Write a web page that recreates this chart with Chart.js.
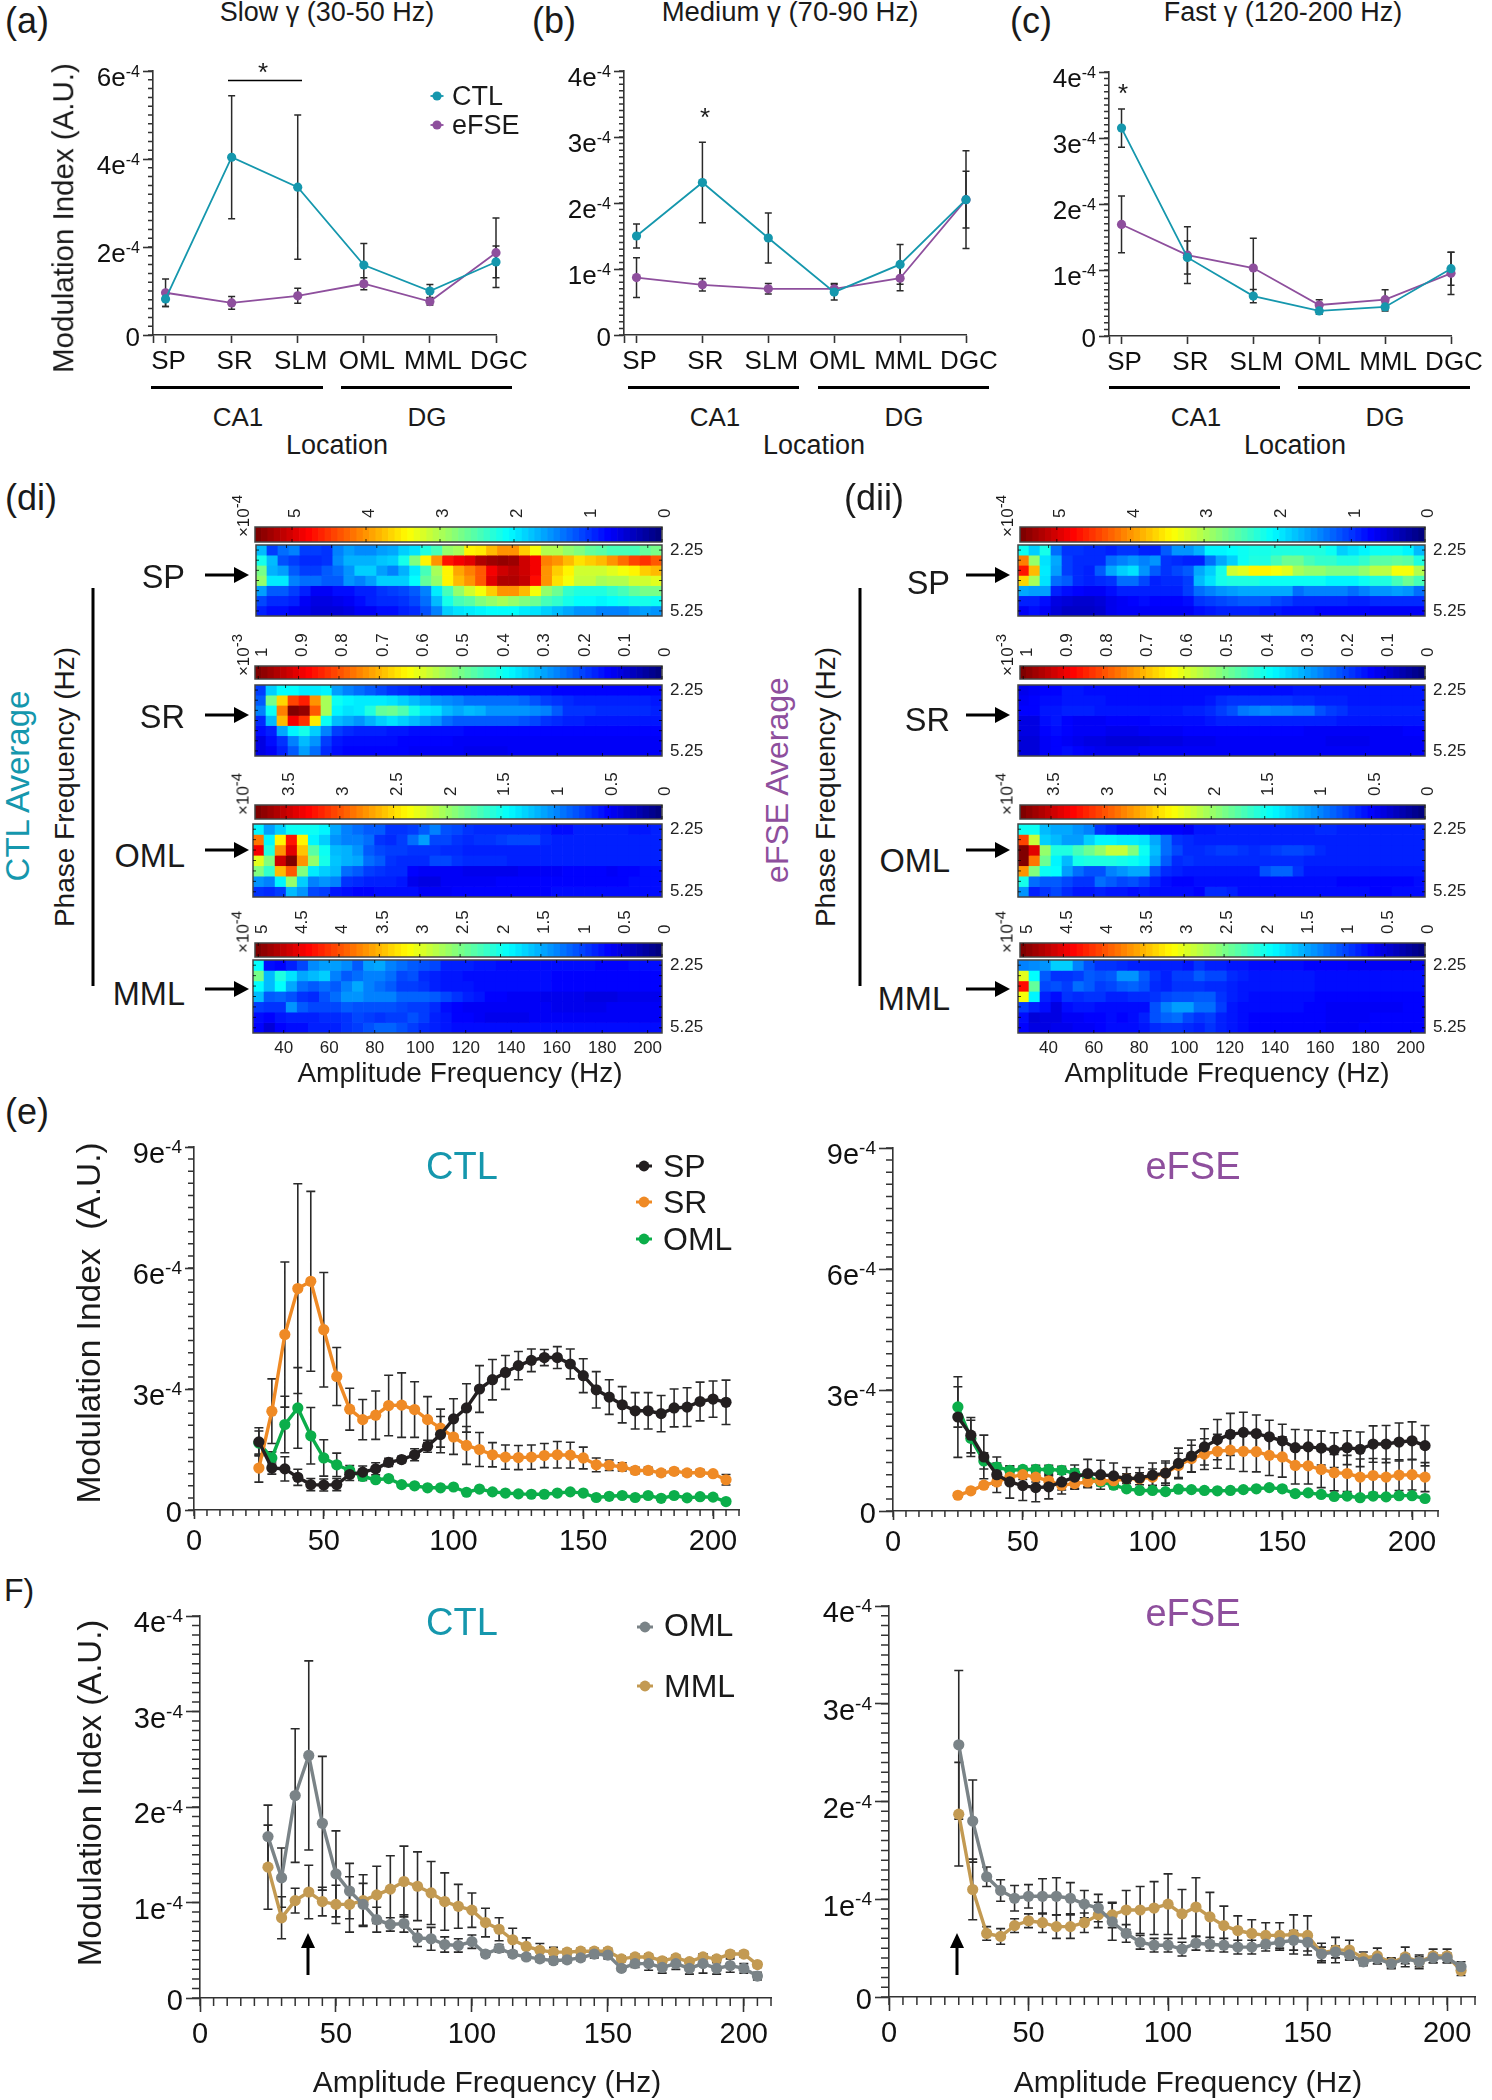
<!DOCTYPE html>
<html>
<head>
<meta charset="utf-8">
<title>Modulation index figure</title>
<script src="https://cdn.jsdelivr.net/npm/chart.js@4"></script>
<style>
  html, body { margin: 0; background: #fff; }
  #page { position: relative; width: 1492px; height: 2100px; overflow: hidden; font-family: "Liberation Sans", Arial, sans-serif; color: #1a1a1a; }
  #page canvas { position: absolute; }
  #page svg { position: absolute; left: 0; top: 0; }
  .t { position: absolute; white-space: pre; line-height: 1; }
  .t sup { font-size: 0.88em; line-height: 0; vertical-align: 0.45em; }
</style>
</head>
<body>
<div id="page"></div>
<script>
// panels a-c, values in units of 1e-4
const sites = ['SP', 'SR', 'SLM', 'OML', 'MML', 'DGC'];
const slowCtl = [0.82, 4.04, 3.36, 1.59, 1.0, 1.66];
const slowCtlSem = [0.17, 1.4, 1.64, 0.49, 0.15, 0.36];
const slowFse = [0.96, 0.73, 0.89, 1.165, 0.76, 1.87];
const slowFseSem = [0.31, 0.145, 0.17, 0.135, 0.08, 0.79];
const medCtl = [1.5, 2.31, 1.47, 0.65, 1.07, 2.05];
const medCtlSem = [0.18, 0.61, 0.38, 0.12, 0.3, 0.43];
const medFse = [0.87, 0.76, 0.7, 0.7, 0.86, 2.05];
const medFseSem = [0.3, 0.095, 0.08, 0.08, 0.19, 0.74];
const fastCtl = [3.15, 1.19, 0.605, 0.38, 0.44, 1.02];
const fastCtlSem = [0.29, 0.25, 0.1, 0.05, 0.06, 0.25];
const fastFse = [1.69, 1.225, 1.03, 0.47, 0.55, 0.95];
const fastFseSem = [0.43, 0.43, 0.45, 0.08, 0.15, 0.32];

// panels e, F
const freqs = [25, 30, 35, 40, 45, 50, 55, 60, 65, 70, 75, 80, 85, 90, 95, 100, 105, 110, 115, 120, 125, 130, 135, 140, 145, 150, 155, 160, 165, 170, 175, 180, 185, 190, 195, 200, 205];

const eCtlSP = [1.69, 1.04, 1.02, 0.81, 0.63, 0.62, 0.63, 0.88, 0.94, 1.02, 1.18, 1.25, 1.37, 1.58, 1.87, 2.26, 2.53, 3.0, 3.23, 3.41, 3.58, 3.71, 3.78, 3.78, 3.62, 3.33, 2.98, 2.8, 2.61, 2.46, 2.46, 2.39, 2.53, 2.55, 2.69, 2.75, 2.67];
const eCtlSPSem = [0.35, 0.15, 0.3, 0.2, 0.15, 0.15, 0.15, 0.15, 0.15, 0.15, 0.1, 0.08, 0.15, 0.15, 0.45, 0.5, 0.6, 0.58, 0.5, 0.42, 0.35, 0.28, 0.2, 0.27, 0.37, 0.42, 0.45, 0.43, 0.45, 0.45, 0.45, 0.45, 0.47, 0.48, 0.48, 0.45, 0.55];
const eCtlSR = [1.04, 2.45, 4.35, 5.49, 5.67, 4.47, 3.31, 2.5, 2.24, 2.35, 2.59, 2.6, 2.49, 2.24, 2.03, 1.81, 1.6, 1.5, 1.37, 1.31, 1.3, 1.31, 1.35, 1.37, 1.36, 1.29, 1.12, 1.11, 1.07, 0.98, 0.98, 0.92, 0.96, 0.92, 0.93, 0.9, 0.75];
const eCtlSRSem = [0.35, 0.8, 1.8, 2.6, 2.23, 1.42, 0.72, 0.52, 0.5, 0.6, 0.75, 0.8, 0.69, 0.57, 0.47, 0.43, 0.47, 0.42, 0.3, 0.3, 0.3, 0.3, 0.3, 0.33, 0.32, 0.27, 0.17, 0.13, 0.1, 0.08, 0.08, 0.07, 0.07, 0.07, 0.07, 0.05, 0.13];
const eCtlOML = [1.66, 1.29, 2.12, 2.53, 1.84, 1.29, 1.12, 0.98, 0.83, 0.75, 0.78, 0.63, 0.6, 0.55, 0.55, 0.57, 0.44, 0.52, 0.45, 0.42, 0.4, 0.39, 0.39, 0.42, 0.45, 0.42, 0.31, 0.34, 0.36, 0.31, 0.36, 0.29, 0.36, 0.3, 0.33, 0.32, 0.21];
const eCtlOMLSem = [0.3, 0.15, 0.7, 1.0, 0.7, 0.45, 0.29, 0.12, 0.1, 0.05, 0.05, 0.05, 0.05, 0.05, 0.05, 0.05, 0.05, 0.05, 0.05, 0.05, 0.05, 0.05, 0.05, 0.05, 0.05, 0.05, 0.05, 0.05, 0.05, 0.05, 0.05, 0.05, 0.05, 0.05, 0.05, 0.05, 0.05];

const eFseSP = [2.33, 1.88, 1.34, 0.9, 0.72, 0.63, 0.58, 0.6, 0.72, 0.84, 0.93, 0.9, 0.87, 0.8, 0.82, 0.89, 0.94, 1.18, 1.36, 1.59, 1.77, 1.9, 1.95, 1.92, 1.84, 1.74, 1.57, 1.59, 1.56, 1.51, 1.57, 1.53, 1.66, 1.66, 1.71, 1.74, 1.62];
const eFseSPSem = [1.0, 0.44, 0.54, 0.44, 0.4, 0.37, 0.35, 0.3, 0.3, 0.3, 0.35, 0.36, 0.32, 0.28, 0.26, 0.3, 0.3, 0.38, 0.4, 0.45, 0.5, 0.52, 0.5, 0.46, 0.41, 0.41, 0.45, 0.42, 0.42, 0.43, 0.42, 0.43, 0.45, 0.46, 0.47, 0.47, 0.5];
const eFseSR = [0.39, 0.5, 0.64, 0.72, 0.84, 0.9, 0.84, 0.75, 0.64, 0.68, 0.72, 0.75, 0.75, 0.8, 0.8, 0.84, 0.94, 1.13, 1.3, 1.41, 1.48, 1.51, 1.48, 1.47, 1.38, 1.34, 1.13, 1.12, 1.03, 0.95, 0.93, 0.84, 0.88, 0.84, 0.89, 0.9, 0.84];
const eFseSRSem = [0.05, 0.05, 0.05, 0.08, 0.1, 0.12, 0.12, 0.12, 0.12, 0.12, 0.12, 0.12, 0.12, 0.12, 0.15, 0.2, 0.25, 0.3, 0.33, 0.38, 0.42, 0.47, 0.5, 0.5, 0.5, 0.5, 0.46, 0.45, 0.45, 0.45, 0.45, 0.45, 0.42, 0.45, 0.38, 0.38, 0.36];
const eFseOML = [2.58, 1.8, 1.24, 1.09, 1.01, 1.03, 1.03, 1.03, 1.01, 0.94, 0.84, 0.72, 0.64, 0.55, 0.51, 0.51, 0.48, 0.54, 0.53, 0.51, 0.5, 0.51, 0.53, 0.55, 0.58, 0.55, 0.43, 0.45, 0.41, 0.36, 0.37, 0.33, 0.37, 0.35, 0.38, 0.38, 0.31];
const eFseOMLSem = [0.5, 0.45, 0.2, 0.1, 0.1, 0.08, 0.1, 0.1, 0.1, 0.1, 0.08, 0.08, 0.06, 0.05, 0.05, 0.05, 0.05, 0.05, 0.05, 0.05, 0.05, 0.05, 0.05, 0.05, 0.06, 0.06, 0.05, 0.05, 0.05, 0.05, 0.05, 0.05, 0.05, 0.05, 0.05, 0.05, 0.05];

const fCtlOML = [1.69, 1.26, 2.12, 2.54, 1.83, 1.3, 1.12, 0.98, 0.82, 0.77, 0.78, 0.63, 0.62, 0.56, 0.55, 0.59, 0.46, 0.52, 0.46, 0.43, 0.41, 0.39, 0.4, 0.42, 0.46, 0.45, 0.31, 0.36, 0.36, 0.32, 0.36, 0.31, 0.36, 0.31, 0.34, 0.31, 0.23];
const fCtlOMLSem = [0.33, 0.31, 0.7, 0.99, 0.7, 0.45, 0.29, 0.22, 0.13, 0.07, 0.09, 0.09, 0.12, 0.08, 0.07, 0.07, 0.03, 0.04, 0.03, 0.03, 0.03, 0.03, 0.03, 0.03, 0.04, 0.04, 0.03, 0.04, 0.07, 0.06, 0.06, 0.06, 0.1, 0.06, 0.07, 0.05, 0.04];
const fCtlMML = [1.37, 0.84, 1.02, 1.11, 1.01, 0.98, 0.98, 1.02, 1.08, 1.14, 1.22, 1.17, 1.1, 1.01, 0.96, 0.92, 0.79, 0.72, 0.61, 0.54, 0.5, 0.48, 0.48, 0.49, 0.49, 0.49, 0.41, 0.43, 0.43, 0.39, 0.42, 0.38, 0.43, 0.41, 0.46, 0.46, 0.35];
const fCtlMMLSem = [0.44, 0.22, 0.13, 0.28, 0.15, 0.2, 0.29, 0.27, 0.3, 0.35, 0.37, 0.36, 0.33, 0.3, 0.23, 0.18, 0.15, 0.12, 0.12, 0.09, 0.07, 0.05, 0.03, 0.03, 0.03, 0.03, 0.03, 0.03, 0.03, 0.03, 0.03, 0.03, 0.03, 0.03, 0.03, 0.03, 0.03];
const fFseOML = [2.58, 1.8, 1.23, 1.09, 1.01, 1.03, 1.03, 1.03, 1.01, 0.95, 0.91, 0.77, 0.65, 0.56, 0.53, 0.53, 0.49, 0.55, 0.54, 0.53, 0.51, 0.51, 0.54, 0.56, 0.58, 0.56, 0.44, 0.46, 0.43, 0.36, 0.39, 0.34, 0.39, 0.36, 0.4, 0.4, 0.31];
const fFseOMLSem = [0.76, 0.42, 0.1, 0.11, 0.13, 0.12, 0.18, 0.19, 0.16, 0.14, 0.14, 0.19, 0.09, 0.07, 0.07, 0.07, 0.07, 0.07, 0.07, 0.07, 0.07, 0.07, 0.07, 0.08, 0.1, 0.09, 0.07, 0.06, 0.05, 0.04, 0.05, 0.05, 0.05, 0.05, 0.05, 0.05, 0.05];
const fFseMML = [1.87, 1.1, 0.65, 0.62, 0.73, 0.78, 0.76, 0.72, 0.72, 0.76, 0.84, 0.84, 0.89, 0.89, 0.91, 0.95, 0.85, 0.92, 0.82, 0.73, 0.68, 0.65, 0.63, 0.63, 0.64, 0.63, 0.45, 0.48, 0.48, 0.4, 0.42, 0.35, 0.41, 0.36, 0.42, 0.42, 0.27];
const fFseMMLSem = [0.53, 0.31, 0.07, 0.08, 0.07, 0.07, 0.1, 0.12, 0.12, 0.1, 0.13, 0.13, 0.2, 0.24, 0.27, 0.31, 0.25, 0.3, 0.25, 0.2, 0.15, 0.14, 0.13, 0.13, 0.2, 0.2, 0.1, 0.13, 0.1, 0.06, 0.08, 0.05, 0.1, 0.07, 0.07, 0.07, 0.05];

// comodulograms: percent of the colour bar, 7 phase rows x 37 amplitude columns
const phaseRows = [2.25, 2.75, 3.25, 3.75, 4.25, 4.75, 5.25];
const heatCtlSP = [
  [28,15,20,22,15,15,14,22,25,23,23,25,26,30,32,38,42,50,52,62,63,68,72,72,66,60,53,53,50,48,45,44,42,42,42,45,47],
  [37,28,17,15,13,13,14,23,27,27,27,29,30,37,48,62,72,85,88,90,95,97,98,97,92,88,74,72,68,64,66,68,72,76,80,82,78],
  [47,27,25,18,15,15,18,20,24,30,30,25,22,27,33,42,52,62,70,74,78,88,92,94,92,88,72,66,62,56,56,56,58,60,62,66,68],
  [50,33,33,22,20,20,18,18,24,22,25,30,30,30,35,45,50,62,68,72,78,90,95,95,93,86,72,64,60,55,55,52,53,53,56,56,58],
  [25,18,18,15,12,8,8,10,10,12,12,14,15,16,18,22,33,42,50,56,60,66,72,72,68,60,50,46,40,38,38,38,40,42,45,47,47],
  [16,13,13,12,8,6,6,7,8,10,12,13,13,14,16,20,28,37,42,44,48,50,52,50,48,46,42,40,37,35,35,34,35,36,37,37,36],
  [12,10,10,8,7,5,5,5,6,8,8,10,10,12,13,17,22,30,32,33,34,35,35,35,33,32,30,28,26,24,24,22,22,22,24,25,24]
];
const heatCtlSR = [
  [15,30,35,35,33,33,34,25,22,20,18,16,14,13,12,11,10,10,10,10,10,10,10,10,10,10,10,9,9,9,9,9,9,9,9,9,9],
  [18,47,65,80,84,72,52,36,34,33,33,33,32,30,28,26,24,23,22,20,20,20,20,20,19,17,15,14,13,12,12,12,12,12,12,12,11],
  [22,36,74,100,98,78,52,34,32,33,38,45,46,43,37,33,32,28,26,28,27,24,24,24,24,23,22,18,14,14,14,13,13,13,13,13,12],
  [13,28,68,88,82,63,36,28,26,24,27,30,32,30,28,26,24,20,18,18,18,18,18,18,17,16,14,13,12,12,11,11,11,11,11,11,11],
  [10,12,26,34,37,30,22,15,13,12,12,12,11,11,10,10,10,10,10,9,9,9,9,9,9,9,9,9,9,9,9,9,9,9,9,9,9],
  [6,10,14,22,28,24,15,11,10,10,10,10,10,9,9,9,9,9,8,8,8,8,8,8,8,8,8,8,8,8,8,8,8,8,8,8,8],
  [6,8,12,18,25,20,13,10,9,9,9,9,9,9,8,8,8,8,8,7,7,7,7,8,8,8,8,8,8,8,8,8,8,8,8,8,8]
];
const heatCtlOML = [
  [34,25,30,36,36,36,34,26,22,20,18,18,14,14,15,18,22,17,16,14,13,13,13,13,13,13,12,10,10,12,12,12,12,12,11,11,12],
  [75,34,62,85,62,34,30,24,22,22,20,14,13,15,20,25,16,16,14,13,14,14,15,16,16,16,13,12,12,12,12,12,12,12,12,12,12],
  [88,38,72,90,67,44,36,28,27,24,18,16,15,15,14,14,14,13,13,12,12,12,12,12,12,12,12,12,12,12,12,12,12,12,12,12,12],
  [58,48,92,100,72,50,37,29,27,26,20,18,14,13,13,13,16,16,14,13,13,13,13,12,12,12,12,12,12,12,12,12,12,12,12,12,12],
  [48,40,68,78,48,33,30,28,20,18,15,14,13,13,9,8,8,8,8,7,7,7,7,7,8,8,8,8,9,9,9,9,8,9,9,10,10],
  [24,22,34,50,30,22,24,22,14,13,12,12,12,11,7,6,6,8,8,8,8,8,9,9,9,9,9,9,9,9,9,9,9,9,10,10,10],
  [14,13,15,28,24,16,15,11,10,9,9,10,10,10,10,8,8,8,9,9,9,9,9,9,9,9,9,10,10,10,10,10,10,10,10,10,10]
];
const heatCtlMML = [
  [35,10,9,12,16,23,25,25,23,18,25,26,22,20,18,17,16,12,12,12,11,11,10,10,10,10,10,10,10,10,10,9,9,9,10,10,10],
  [47,28,38,32,26,28,30,22,18,20,22,22,20,16,17,13,12,11,11,10,10,10,10,10,10,10,10,9,9,9,9,9,9,9,9,9,9],
  [35,28,35,26,20,18,20,18,22,26,22,20,18,15,15,14,12,11,11,11,10,10,10,10,10,10,10,9,9,9,9,9,9,9,9,9,9],
  [28,18,19,17,14,13,17,20,24,24,22,22,22,19,19,19,18,16,14,12,11,9,9,8,8,8,7,7,7,7,6,6,6,7,7,7,7],
  [15,14,14,24,18,16,16,16,18,17,17,17,17,16,15,15,13,10,9,8,8,8,8,8,8,8,8,7,7,7,7,7,8,8,8,8,8],
  [10,9,11,12,12,12,13,13,14,16,15,14,15,15,17,15,12,11,9,9,8,7,7,7,7,8,8,8,8,8,8,8,8,8,8,8,8],
  [9,5,9,10,10,12,12,12,14,15,17,19,19,17,15,13,12,11,10,10,10,10,10,10,10,10,10,10,10,10,10,10,10,10,10,10,10]
];
const heatFseSP = [
  [36,30,37,20,14,14,13,13,12,14,14,12,12,18,24,24,27,34,34,35,36,37,37,38,38,38,38,38,36,30,32,34,36,36,36,34,28],
  [74,50,32,26,15,13,13,13,20,22,24,22,24,14,13,12,12,20,26,30,36,38,38,42,46,46,42,40,40,38,38,40,44,44,45,44,38],
  [85,68,33,25,15,13,12,18,26,30,32,24,18,14,16,18,26,30,37,56,58,62,62,60,58,52,50,50,48,48,48,50,54,54,60,60,53],
  [65,52,32,20,18,13,12,13,14,20,20,16,12,13,13,15,28,32,37,38,38,38,36,36,36,36,36,36,34,34,34,36,38,38,42,46,42],
  [26,25,25,12,10,9,8,8,10,12,12,12,12,12,12,15,20,22,24,25,26,26,26,26,26,20,22,22,22,22,20,22,24,24,25,24,20],
  [12,12,10,6,5,4,4,5,7,8,9,10,9,9,9,10,14,15,16,17,18,18,18,16,15,13,13,13,13,13,12,12,13,13,13,13,13],
  [8,10,8,5,3,3,3,4,7,8,8,8,8,8,8,8,10,11,12,12,12,12,11,11,10,10,10,9,9,9,9,9,8,8,8,8,8]
];
const heatFseSR = [
  [7,8,9,9,11,11,10,10,10,10,10,10,10,10,10,10,10,10,10,10,10,10,10,10,10,11,11,11,11,11,11,11,11,11,11,11,11],
  [8,9,10,10,11,11,11,11,10,10,10,10,10,10,10,10,10,11,13,14,14,14,14,14,14,13,13,12,12,12,11,11,11,11,11,11,11],
  [9,9,11,11,12,12,12,11,11,11,11,11,11,11,11,12,12,13,15,17,21,22,23,22,22,21,21,17,15,14,12,12,12,12,12,12,12],
  [6,6,10,11,9,8,8,8,9,9,9,9,10,10,10,10,10,11,12,12,12,12,12,12,12,12,12,12,12,11,11,11,11,11,11,11,11],
  [6,6,9,10,9,8,8,8,7,7,7,8,8,8,8,9,9,9,9,9,9,9,9,9,9,9,8,8,8,8,8,8,8,8,8,9,9],
  [5,5,8,9,8,7,6,6,5,5,5,5,6,6,6,7,7,7,8,8,8,8,8,8,8,8,8,8,7,7,7,7,8,8,8,8,8],
  [5,5,8,9,10,9,8,7,7,7,7,8,8,8,8,8,8,8,8,8,8,8,8,8,8,8,8,8,8,8,8,8,8,8,8,8,8]
];
const heatFseOML = [
  [36,36,28,26,26,24,22,14,12,10,10,10,9,9,9,8,11,11,12,12,12,12,12,12,12,12,12,13,13,12,12,12,12,12,12,12,12],
  [80,55,30,28,25,25,30,34,34,33,33,32,26,20,14,13,12,12,12,12,12,12,12,12,12,12,12,12,12,12,12,12,12,12,12,12,12],
  [100,90,50,38,38,42,46,50,55,55,48,36,28,20,16,13,13,14,15,15,14,13,14,15,16,16,15,13,12,12,12,12,12,12,12,12,12],
  [100,75,46,34,28,37,38,38,38,37,36,34,26,18,13,14,13,13,13,13,13,13,13,13,13,13,12,12,12,12,12,12,12,12,12,12,12],
  [72,48,36,35,25,20,17,17,22,24,26,26,17,13,12,11,11,11,11,11,11,11,17,19,19,14,11,11,11,11,11,11,11,11,11,11,11],
  [37,20,18,18,16,14,14,20,18,16,17,15,12,10,9,9,10,10,10,10,10,10,10,10,10,10,10,10,10,9,9,9,9,9,9,9,10],
  [24,12,14,16,13,11,11,12,11,11,10,11,10,10,10,10,9,13,13,12,10,10,10,10,10,10,10,10,10,10,10,10,9,9,10,10,10]
];
const heatFseMML = [
  [22,23,24,30,30,22,17,14,14,13,12,12,12,12,12,11,14,12,12,11,11,10,10,10,10,10,9,9,9,9,8,8,8,8,8,8,8],
  [58,35,18,14,14,15,18,17,18,24,24,18,14,12,15,15,18,16,16,13,12,11,11,11,11,11,11,10,10,10,10,10,10,10,10,10,10],
  [86,45,16,17,15,20,18,15,16,18,19,17,13,12,14,14,14,13,13,12,11,11,11,11,11,11,11,10,10,10,10,10,10,10,10,10,10],
  [60,34,12,10,14,13,14,14,12,12,13,13,14,16,17,17,18,18,14,12,11,10,10,10,10,10,10,9,9,9,9,9,9,9,9,9,9],
  [15,12,10,6,10,11,11,10,10,10,10,10,17,22,25,25,20,20,15,11,10,10,10,10,10,10,9,9,8,8,8,8,8,8,8,9,9],
  [10,5,6,6,8,8,9,9,10,9,10,12,17,19,20,16,14,15,12,11,10,9,9,9,9,9,9,9,8,8,8,8,9,9,9,9,9],
  [9,6,6,7,7,8,8,9,10,10,10,11,13,14,14,13,12,14,12,11,10,9,9,9,9,9,9,9,8,8,8,9,9,9,9,9,9]
];

// colour bar scales
const barTicksSP = [0, 1, 2, 3, 4, 5];
const barTicksSR = [0, 0.1, 0.2, 0.3, 0.4, 0.5, 0.6, 0.7, 0.8, 0.9, 1];
const barTicksOML = [0, 0.5, 1, 1.5, 2, 2.5, 3, 3.5];
const barTicksMML = [0, 0.5, 1, 1.5, 2, 2.5, 3, 3.5, 4, 4.5, 5];
const ampTicks = [40, 60, 80, 100, 120, 140, 160, 180, 200];

const TEAL = '#1597ad';
const PURPLE = '#8e4f9d';
const BLACK = '#231f20';
const ORANGE = '#ef8a25';
const GREEN = '#0bae4a';
const GREY = '#7a8387';
const TAN = '#c39a52';
const AXIS = '#333';
const FONT = '"Liberation Sans", Arial, sans-serif';

const page = document.getElementById('page');

function jet(v) {
  const c = k => Math.round(255 * Math.min(1, Math.max(0, 1.5 - Math.abs(4 * v - k))));
  return `rgb(${c(3)},${c(2)},${c(1)})`;
}
// the low end of the printed maps sits a little brighter than plain jet
const heatColour = v => jet((v + 4 * (1 - v / 100)) / 100);

// ---- plugins ----
const axisExtras = {
  id: 'axisExtras',
  afterDraw(chart, args, o) {
    if (!o.font) return;
    const ctx = chart.ctx, x = chart.scales.x, y = chart.scales.y;
    ctx.save();
    ctx.strokeStyle = AXIS;
    ctx.lineWidth = 1.5;
    ctx.beginPath();
    for (let v = 0; v <= o.yMax + 1e-9; v += o.yMinor) {
      const p = y.getPixelForValue(v);
      ctx.moveTo(x.left, p);
      ctx.lineTo(x.left - o.yMinorLen, p);
    }
    if (o.xMinor) {
      for (let v = x.min; v <= x.max + 1e-9; v += o.xMinor) {
        const p = x.getPixelForValue(v);
        ctx.moveTo(p, y.bottom);
        ctx.lineTo(p, y.bottom + o.xMinorLen);
      }
    }
    ctx.stroke();
    // y labels with a raised exponent
    ctx.fillStyle = '#111';
    ctx.textBaseline = 'alphabetic';
    ctx.textAlign = 'right';
    const xr = x.left - o.tickLen - 3;
    y.ticks.forEach(t => {
      const p = y.getPixelForValue(t.value);
      ctx.font = `${o.font}px ${FONT}`;
      if (t.value === 0) {
        ctx.fillText('0', xr, p + o.font * 0.36 + 2);
        return;
      }
      const base = p + 6 + o.font * 0.36;
      ctx.font = `${o.sup}px ${FONT}`;
      const w = ctx.measureText('-4').width;
      ctx.fillText('-4', xr, p + 6);
      ctx.font = `${o.font}px ${FONT}`;
      ctx.fillText(t.value + 'e', xr - w, base);
    });
    ctx.restore();
  }
};

const errorBars = {
  id: 'errorBars',
  beforeDatasetsDraw(chart, args, o) {
    if (!o.cap) return;
    const ctx = chart.ctx, x = chart.scales.x, y = chart.scales.y;
    ctx.save();
    ctx.strokeStyle = '#2a2a2a';
    ctx.lineWidth = o.width;
    chart.data.datasets.forEach(ds => {
      ctx.beginPath();
      ds.data.forEach((pt, i) => {
        const px = x.getPixelForValue(pt.x);
        const hi = y.getPixelForValue(pt.y + ds.sem[i]);
        const lo = y.getPixelForValue(pt.y - ds.sem[i]);
        ctx.moveTo(px, hi); ctx.lineTo(px, lo);
        ctx.moveTo(px - o.cap, hi); ctx.lineTo(px + o.cap, hi);
        ctx.moveTo(px - o.cap, lo); ctx.lineTo(px + o.cap, lo);
      });
      ctx.stroke();
    });
    ctx.restore();
  }
};

const frame = {
  id: 'frame',
  afterDatasetsDraw(chart, args, o) {
    if (!o.on) return;
    const ctx = chart.ctx, a = chart.chartArea, x = chart.scales.x, y = chart.scales.y;
    ctx.save();
    ctx.strokeStyle = '#444';
    ctx.lineWidth = 1.5;
    ctx.strokeRect(a.left, a.top, a.right - a.left, a.bottom - a.top);
    ctx.strokeStyle = 'rgba(0,0,0,0.75)';
    ctx.lineWidth = 1;
    ctx.beginPath();
    o.xTicks.forEach(v => {
      const p = x.getPixelForValue(v);
      ctx.moveTo(p, a.top); ctx.lineTo(p, a.top + 3);
      ctx.moveTo(p, a.bottom); ctx.lineTo(p, a.bottom - 3);
    });
    if (o.rows) {
      phaseRows.forEach(v => {
        const p = y.getPixelForValue(v);
        ctx.moveTo(a.left, p); ctx.lineTo(a.left + 3, p);
        ctx.moveTo(a.right, p); ctx.lineTo(a.right - 3, p);
      });
    }
    ctx.stroke();
    ctx.restore();
  }
};

// ---- helpers ----
// fixed axis sizes so the plot areas land on the page coordinates
const fitTo = size => s => {
  if (s.isHorizontal()) s.height = size; else s.width = size;
  s.paddingTop = s.paddingBottom = s.paddingLeft = s.paddingRight = 0;
};
const setTicks = vals => s => { s.ticks = vals.map(value => ({ value })); };

// box is the plot area in page pixels, m the room around it
function place(box, m, config) {
  const c = document.createElement('canvas');
  c.width = box.r - box.l + m.l + m.r;
  c.height = box.b - box.t + m.t + m.b;
  c.style.left = (box.l - m.l) + 'px';
  c.style.top = (box.t - m.t) + 'px';
  page.appendChild(c);
  config.plugins = [axisExtras, errorBars, frame];
  config.options.responsive = false;
  config.options.animation = false;
  config.options.events = [];
  config.options.layout = Object.assign({ autoPadding: false }, config.options.layout);
  config.options.plugins = Object.assign({ legend: { display: false }, tooltip: { enabled: false } }, config.options.plugins);
  return new Chart(c, config);
}

function text(str, x, y, size, opts) {
  opts = opts || {};
  const d = document.createElement('div');
  d.className = 't';
  d.innerHTML = str;
  d.style.fontSize = size + 'px';
  d.style.left = x + 'px';
  d.style.top = y + 'px';
  const ax = opts.align === 'left' ? '0' : opts.align === 'right' ? '-100%' : '-50%';
  d.style.transform = `translate(${ax},-50%)` + (opts.rot ? ` rotate(${opts.rot}deg)` : '');
  if (opts.color) d.style.color = opts.color;
  page.appendChild(d);
}

let svg = '';
const line = (x0, y0, x1, y1, w, col) => { svg += `<line x1="${x0}" y1="${y0}" x2="${x1}" y2="${y1}" stroke="${col || '#000'}" stroke-width="${w}"/>`; };
function arrowRight(x0, x1, y) {
  line(x0, y, x1 - 12, y, 3);
  svg += `<polygon points="${x1 - 15},${y - 8} ${x1},${y} ${x1 - 15},${y + 8}"/>`;
}
function arrowUp(x, y0, y1) {
  line(x, y0, x, y1 + 12, 3);
  svg += `<polygon points="${x - 7},${y1 + 15} ${x},${y1} ${x + 7},${y1 + 15}"/>`;
}
function legendMark(x, y, col, half, w, r) {
  line(x - half, y, x + half, y, w, col);
  svg += `<circle cx="${x}" cy="${y}" r="${r}" fill="${col}"/>`;
}

// ---- panels a-c ----
function sitePanel(box, yMax, yVals, yMinor, ctl, ctlSem, fse, fseSem) {
  const pts = arr => arr.map((y, i) => ({ x: i, y }));
  const series = (data, sem, col) => ({ data: pts(data), sem, borderColor: col, backgroundColor: col, borderWidth: 1.8, pointRadius: 4.6, pointBorderWidth: 0, clip: false, tension: 0 });
  place(box, { l: 110, t: 20, r: 60, b: 60 }, {
    type: 'line',
    data: { datasets: [series(ctl, ctlSem, TEAL), series(fse, fseSem, PURPLE)] },
    options: {
      layout: { padding: { top: 20, right: 60 } },
      scales: {
        x: {
          type: 'linear', min: -0.19, max: 5,
          afterFit: fitTo(60),
          afterBuildTicks: setTicks([-0.19, 0, 1, 2, 3, 4, 5]),
          border: { color: AXIS, width: 1.6 },
          grid: { drawOnChartArea: false, tickLength: 8, tickColor: AXIS, tickWidth: 1.6 },
          ticks: { autoSkip: false, maxRotation: 0, padding: 3, labelOffset: 3, color: '#111', font: { size: 26, family: FONT }, callback: v => sites[v] || '' }
        },
        y: {
          min: 0, max: yMax,
          afterFit: fitTo(110),
          afterBuildTicks: setTicks(yVals),
          border: { color: AXIS, width: 1.6 },
          grid: { drawOnChartArea: false, tickLength: 10, tickColor: AXIS, tickWidth: 1.6 },
          ticks: { display: false }
        }
      },
      plugins: {
        axisExtras: { font: 26, sup: 16, tickLen: 10, yMax, yMinor, yMinorLen: 5 },
        errorBars: { cap: 3.5, width: 1.5 }
      }
    }
  });
}
sitePanel({ l: 153, r: 496, t: 71, b: 335 }, 6, [0, 2, 4, 6], 0.2, slowCtl, slowCtlSem, slowFse, slowFseSem);
sitePanel({ l: 624, r: 966, t: 71, b: 335 }, 4, [0, 1, 2, 3, 4], 0.1, medCtl, medCtlSem, medFse, medFseSem);
sitePanel({ l: 1109, r: 1451, t: 72, b: 336 }, 4, [0, 1, 2, 3, 4], 0.1, fastCtl, fastCtlSem, fastFse, fastFseSem);

// ---- panels e, F ----
function freqPanel(box, yMax, yVals, yMinor, tick, series) {
  const datasets = series.map(s => ({
    data: freqs.map((x, i) => ({ x, y: s.y[i] })), sem: s.sem,
    borderColor: s.col, backgroundColor: s.col, borderWidth: 3.4, pointRadius: 5.6, pointBorderWidth: 0, clip: false, tension: 0
  }));
  place(box, { l: 120, t: 20, r: 20, b: 70 }, {
    type: 'line',
    data: { datasets },
    options: {
      layout: { padding: { top: 20, right: 20 } },
      scales: {
        x: {
          type: 'linear', min: 0, max: 210,
          afterFit: fitTo(70),
          afterBuildTicks: setTicks([0, 50, 100, 150, 200]),
          border: { color: AXIS, width: 1.6 },
          grid: { drawOnChartArea: false, tickLength: tick.x, tickColor: AXIS, tickWidth: 1.6 },
          ticks: { autoSkip: false, maxRotation: 0, padding: 6, color: '#111', font: { size: 29, family: FONT } }
        },
        y: {
          min: 0, max: yMax,
          afterFit: fitTo(120),
          afterBuildTicks: setTicks(yVals),
          border: { color: AXIS, width: 1.6 },
          grid: { drawOnChartArea: false, tickLength: tick.y, tickColor: AXIS, tickWidth: 1.6 },
          ticks: { display: false }
        }
      },
      plugins: {
        axisExtras: { font: 29, sup: 19, tickLen: tick.y, yMax, yMinor, yMinorLen: tick.yMinor, xMinor: 5, xMinorLen: tick.xMinor },
        errorBars: { cap: 4.5, width: 1.6 }
      }
    }
  });
}
const e3 = [0, 3, 6, 9];
const f4 = [0, 1, 2, 3, 4];
freqPanel({ l: 194, r: 739, t: 1147, b: 1510 }, 9, e3, 0.3, { x: 9, xMinor: 6, y: 9, yMinor: 6 }, [
  { y: eCtlSP, sem: eCtlSPSem, col: BLACK }, { y: eCtlSR, sem: eCtlSRSem, col: ORANGE }, { y: eCtlOML, sem: eCtlOMLSem, col: GREEN }
]);
freqPanel({ l: 893, r: 1438, t: 1148, b: 1511 }, 9, e3, 0.3, { x: 9, xMinor: 6, y: 14, yMinor: 7 }, [
  { y: eFseSP, sem: eFseSPSem, col: BLACK }, { y: eFseSR, sem: eFseSRSem, col: ORANGE }, { y: eFseOML, sem: eFseOMLSem, col: GREEN }
]);
freqPanel({ l: 200, r: 771, t: 1616, b: 1998 }, 4, f4, 0.1, { x: 14, xMinor: 8, y: 14, yMinor: 8 }, [
  { y: fCtlOML, sem: fCtlOMLSem, col: GREY }, { y: fCtlMML, sem: fCtlMMLSem, col: TAN }
]);
freqPanel({ l: 889, r: 1475, t: 1606, b: 1997 }, 4, f4, 0.1, { x: 14, xMinor: 8, y: 14, yMinor: 8 }, [
  { y: fFseOML, sem: fFseOMLSem, col: GREY }, { y: fFseMML, sem: fFseMMLSem, col: TAN }
]);

// ---- comodulograms ----
const AMP_MIN = 26.5, AMP_MAX = 206.3;
function heatmap(box, rows, showX) {
  const nCol = rows[0].length;
  const datasets = rows.map((row, r) => ({
    grouped: false,
    data: row.map((v, i) => ({
      x: AMP_MIN + (i + 0.5) * (AMP_MAX - AMP_MIN) / nCol,
      y: [phaseRows[r] - 0.25, phaseRows[r] + 0.25]
    })),
    backgroundColor: row.map(heatColour),
    borderWidth: 0,
    barPercentage: 1,
    categoryPercentage: 1
  }));
  place(box, { l: 10, t: 10, r: 60, b: 34 }, {
    type: 'bar',
    data: { datasets },
    options: {
      layout: { padding: { left: 10, top: 10 } },
      scales: {
        x: {
          type: 'linear', min: AMP_MIN, max: AMP_MAX, offset: false,
          afterFit: fitTo(34),
          afterBuildTicks: setTicks(ampTicks),
          border: { display: false },
          grid: { display: true, offset: false, drawOnChartArea: false, drawTicks: false },
          ticks: { display: showX, autoSkip: false, maxRotation: 0, padding: 5, color: '#222', font: { size: 17, family: FONT } }
        },
        y: {
          type: 'linear', position: 'right', min: 2, max: 5.5, reverse: true,
          afterFit: fitTo(60),
          afterBuildTicks: setTicks([2.25, 5.25]),
          border: { display: false },
          grid: { drawOnChartArea: false, drawTicks: false },
          ticks: { padding: 8, color: '#222', font: { size: 17, family: FONT }, callback: v => v.toFixed(2) }
        }
      },
      plugins: { frame: { on: true, xTicks: ampTicks, rows: true } }
    }
  });
}

function colourBar(box, vMax, vals) {
  const steps = 64;
  const datasets = [];
  for (let i = 0; i < steps; i++) {
    datasets.push({
      grouped: false,
      data: [[vMax * i / steps, vMax * (i + 1) / steps]],
      backgroundColor: jet(i / (steps - 1)),
      borderWidth: 0, barPercentage: 1, categoryPercentage: 1
    });
  }
  place(box, { l: 10, t: 50, r: 14, b: 4 }, {
    type: 'bar',
    data: { labels: [''], datasets },
    options: {
      indexAxis: 'y',
      layout: { padding: { left: 10, right: 14, bottom: 4 } },
      scales: {
        x: {
          type: 'linear', position: 'top', min: 0, max: vMax, reverse: true,
          afterFit: fitTo(50),
          afterBuildTicks: setTicks(vals),
          border: { display: false },
          grid: { drawOnChartArea: false, drawTicks: false },
          ticks: { autoSkip: false, minRotation: 90, maxRotation: 90, padding: 9, labelOffset: 24, color: '#222', font: { size: 17, family: FONT }, callback: v => String(v) }
        },
        y: { display: false }
      },
      plugins: { frame: { on: true, xTicks: vals, rows: false } }
    }
  });
}

const heatTops = [
  { bar: [527, 542], heat: [545, 616], rows: [heatCtlSP, heatFseSP], max: 5.5, ticks: barTicksSP, exp: '-4', arrow: 575 },
  { bar: [666, 679], heat: [685, 756], rows: [heatCtlSR, heatFseSR], max: 1.008, ticks: barTicksSR, exp: '-3', arrow: 715 },
  { bar: [805, 819], heat: [824, 897], rows: [heatCtlOML, heatFseOML], max: 3.79, ticks: barTicksOML, exp: '-4', arrow: 850 },
  { bar: [943, 957], heat: [960, 1033], rows: [heatCtlMML, heatFseMML], max: 5.04, ticks: barTicksMML, exp: '-4', arrow: 989 }
];
const heatLefts = [[256, 255, 253, 253], [1018, 1018, 1018, 1018]];
const heatRights = [662, 1425];
const barLefts = [255, 1020];
const expX = [243, 1007];
const siteRight = [185, 950];
const siteY = [[577, 717, 856, 994], [583, 720, 861, 999]];
const siteNames = ['SP', 'SR', 'OML', 'MML'];
const arrowX = [[205, 249], [966, 1010]];

heatTops.forEach((h, i) => {
  [0, 1].forEach(g => {
    colourBar({ l: barLefts[g], r: heatRights[g], t: h.bar[0], b: h.bar[1] }, h.max, h.ticks);
    heatmap({ l: heatLefts[g][i], r: heatRights[g], t: h.heat[0], b: h.heat[1] }, h.rows[g], i === 3);
    text(`×10<sup>${h.exp}</sup>`, expX[g], h.bar[0] - 11, 17, { rot: -90 });
    text(siteNames[i], siteRight[g], siteY[g][i], 32.5, { align: 'right' });
    arrowRight(arrowX[g][0], arrowX[g][1], h.arrow);
  });
});

// ---- text and rules ----
text('(a)', 5, 21, 36, { align: 'left' });
text('(b)', 532, 21, 36, { align: 'left' });
text('(c)', 1010, 21, 36, { align: 'left' });
text('(di)', 5, 498, 36, { align: 'left' });
text('(dii)', 844, 498, 36, { align: 'left' });
text('(e)', 5, 1112, 36, { align: 'left' });
text('F)', 4, 1590, 32, { align: 'left' });

text('Slow γ (30-50 Hz)', 327, 12, 27);
text('Medium γ (70-90 Hz)', 790, 12, 27.5);
text('Fast γ (120-200 Hz)', 1283, 12, 27);
text('Modulation Index (A.U.)', 63, 218, 29.5, { rot: -90 });
text('*', 263, 72, 26);
text('*', 705, 117, 26);
text('*', 1123, 93, 26);
line(228, 80.5, 302, 80.5, 1.6);

const groupX = [[[151, 323], [341, 512]], [[628, 799], [818, 989]], [[1109, 1280], [1298, 1470]]];
const groupLabels = [[238, 427, 337], [715, 904, 814], [1196, 1385, 1295]];
groupX.forEach((g, i) => {
  line(g[0][0], 387.5, g[0][1], 387.5, 3.2);
  line(g[1][0], 387.5, g[1][1], 387.5, 3.2);
  text('CA1', groupLabels[i][0], 417, 26);
  text('DG', groupLabels[i][1], 417, 26);
  text('Location', groupLabels[i][2], 445, 27);
});

legendMark(437, 96, TEAL, 6.5, 1.8, 4.6);
legendMark(437, 125, PURPLE, 6.5, 1.8, 4.6);
text('CTL', 452, 96, 27, { align: 'left' });
text('eFSE', 452, 125, 27, { align: 'left' });

line(93, 588, 93, 986, 3);
line(860, 588, 860, 986, 3);
text('Phase Frequency (Hz)', 65, 787, 28, { rot: -90 });
text('Phase Frequency (Hz)', 826, 787, 28, { rot: -90 });
text('CTL Average', 17, 786, 33, { rot: -90, color: TEAL });
text('eFSE Average', 777, 780, 32, { rot: -90, color: PURPLE });
text('Amplitude Frequency (Hz)', 460, 1073, 28);
text('Amplitude Frequency (Hz)', 1227, 1073, 28);

text('CTL', 462, 1166, 38, { color: TEAL });
text('eFSE', 1193, 1166, 38, { color: PURPLE });
text('Modulation Index  (A.U.)', 89, 1323, 33.5, { rot: -90 });
legendMark(644, 1166, BLACK, 8, 3, 5.4);
legendMark(644, 1202, ORANGE, 8, 3, 5.4);
legendMark(644, 1239, GREEN, 8, 3, 5.4);
text('SP', 663, 1166, 32, { align: 'left' });
text('SR', 663, 1202, 32, { align: 'left' });
text('OML', 663, 1239, 32, { align: 'left' });

text('CTL', 462, 1622, 38, { color: TEAL });
text('eFSE', 1193, 1613, 38, { color: PURPLE });
text('Modulation Index (A.U.)', 89, 1793, 33, { rot: -90 });
legendMark(645, 1627, GREY, 8, 3, 5.4);
legendMark(645, 1686, TAN, 8, 3, 5.4);
text('OML', 664, 1625, 32, { align: 'left' });
text('MML', 664, 1686, 32, { align: 'left' });
arrowUp(308, 1975, 1933);
arrowUp(957, 1975, 1933);
text('Amplitude Frequency (Hz)', 487, 2082, 30);
text('Amplitude Frequency (Hz)', 1188, 2082, 30);

const overlay = document.createElement('div');
overlay.innerHTML = `<svg width="1492" height="2100" xmlns="http://www.w3.org/2000/svg">${svg}</svg>`;
page.appendChild(overlay);
</script>
</body>
</html>
